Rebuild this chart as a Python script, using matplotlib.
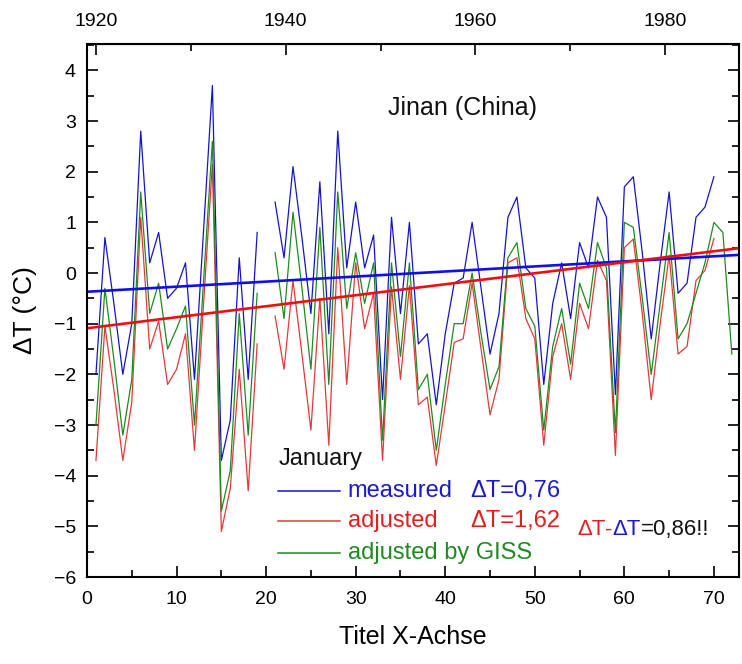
import matplotlib
matplotlib.use("Agg")
import matplotlib.pyplot as plt
import numpy as np
from matplotlib.ticker import MultipleLocator, FixedLocator

plt.rcParams['font.family'] = ['Liberation Sans', 'DejaVu Sans']

# Jahresindex (0 = 1919)
idx_measured = np.arange(1, 71)
idx_giss = np.arange(1, 73)

measured = [-2.0, 0.7, -0.6, -2.0, -1.0, 2.8, 0.2, 0.8, -0.5, -0.3,
            0.2, -2.1, 0.8, 3.7, -3.7, -2.9, 0.3, -2.1, 0.8, np.nan,
            1.4, 0.3, 2.1, 0.7, -0.8, 1.8, -1.2, 2.8, 0.1, 1.4,
            0.1, 0.75, -2.5, 1.1, -0.8, 1.0, -1.4, -1.2, -2.6, -1.2,
            -0.2, -0.1, 1.0, -0.3, -1.6, -0.8, 1.1, 1.5, 0.1, -0.1,
            -2.2, -0.6, 0.2, -0.9, 0.6, 0.1, 1.5, 1.1, -2.4, 1.7,
            1.9, 0.4, -1.3, 0.2, 1.6, -0.4, -0.2, 1.1, 1.3, 1.9]

adjusted = [-3.7, -1.05, -2.3, -3.7, -2.55, 1.1, -1.5, -0.95, -2.2, -1.9,
            -1.2, -3.5, -0.65, 2.15, -5.1, -4.25, -1.9, -4.3, -1.4, np.nan,
            -0.85, -1.9, -0.15, -1.6, -3.1, -0.5, -3.4, 0.5, -2.2, 0.2,
            -1.1, -0.4, -3.7, -0.27, -2.1, -0.25, -2.6, -2.45, -3.8, -2.6,
            -1.37, -1.3, -0.2, -1.5, -2.8, -2.1, 0.2, 0.3, -0.9, -1.3,
            -3.4, -1.65, -1.0, -2.1, -0.6, -1.1, 0.25, -0.15, -3.6, 0.5,
            0.67, -0.8, -2.5, -1.0, 0.35, -1.6, -1.45, -0.15, 0.05, 0.68]

giss = [-3.0, -0.3, -1.7, -3.2, -2.1, 1.6, -0.8, -0.2, -1.5, -1.1,
        -0.65, -3.0, -0.2, 2.6, -4.7, -3.9, -0.8, -3.2, -0.4, np.nan,
        0.4, -0.9, 1.2, -0.3, -1.9, 0.9, -2.2, 1.6, -0.7, 0.4,
        -0.6, 0.2, -3.3, 0.2, -1.65, 0.2, -2.3, -2.0, -3.5, -2.2,
        -1.0, -1.0, 0.0, -1.2, -2.3, -1.85, 0.3, 0.6, -0.7, -1.05,
        -3.1, -1.45, -0.7, -1.8, -0.2, -0.7, 0.6, 0.1, -3.15, 1.0,
        0.9, -0.5, -2.0, -0.6, 0.8, -1.3, -1.0, -0.4, 0.2, 1.0,
        0.8, -1.6]

trend_measured = (-0.37, 0.0100)
trend_adjusted = (-1.09, 0.0217)

year_ticks = [1920, 1940, 1960, 1980]
year_minor = [1930, 1950, 1970]


def idx_to_year(x):
    return 1920 + (x - 1.0) * 0.9441


def year_to_idx(y):
    return 1.0 + (y - 1920) / 0.9441


fig = plt.figure(figsize=(7.42, 6.64), dpi=100)
ax = fig.add_axes([87 / 742, 87 / 664, 652 / 742, 533 / 664])

ax.plot(idx_measured, measured, color='#1414c8', lw=0.9)
ax.plot(idx_measured, adjusted, color='#e23a3a', lw=0.9)
ax.plot(idx_giss, giss, color='#1f8a1f', lw=0.9)

xl = np.array([0, 73])
ax.plot(xl, trend_measured[0] + trend_measured[1] * xl, color='#1010e6', lw=1.9)
ax.plot(xl, trend_adjusted[0] + trend_adjusted[1] * xl, color='#ee1010', lw=1.9)

ax.set_xlim(0, 72.8)
ax.set_ylim(-6, 4.52)

ax.xaxis.set_major_locator(MultipleLocator(10))
ax.xaxis.set_minor_locator(MultipleLocator(5))
ax.yaxis.set_major_locator(MultipleLocator(1))
ax.yaxis.set_minor_locator(MultipleLocator(0.5))
ax.tick_params(which='both', direction='in', right=True, top=False, width=1.2, labelsize=14)
ax.tick_params(which='major', length=8)
ax.tick_params(which='minor', length=5)
ax.tick_params(axis='x', pad=10)
ax.tick_params(axis='y', pad=8)
for s in ax.spines.values():
    s.set_linewidth(1.5)

secax = ax.secondary_xaxis('top', functions=(idx_to_year, year_to_idx))
secax.xaxis.set_major_locator(FixedLocator(year_ticks))
secax.xaxis.set_minor_locator(FixedLocator(year_minor))
secax.tick_params(which='both', direction='in', width=1.2, labelsize=14, pad=10)
secax.tick_params(which='major', length=8)
secax.tick_params(which='minor', length=5)

ax.set_xlabel('Titel X-Achse', fontsize=18, labelpad=12)
ax.set_ylabel('ΔT (°C)', fontsize=19, labelpad=12)

ax.text(33.6, 3.25, 'Jinan (China)', fontsize=18, va='center', ha='left', color='#111111')

# Legende von Hand
ax.text(21.4, -3.67, 'January', fontsize=17, va='center', ha='left', color='#111111')
legend_rows = [
    (-4.31, '#1414c8', 'measured', 'ΔT=0,76', '#1a1acc'),
    (-4.90, '#e23a3a', 'adjusted', 'ΔT=1,62', '#e02020'),
    (-5.53, '#1f8a1f', 'adjusted by GISS', None, '#1f8a1f'),
]
for yy, lc, label, extra, tc in legend_rows:
    ax.plot([21.3, 28.2], [yy, yy], color=lc, lw=1.1)
    ax.text(29.1, yy, label, fontsize=17, va='center', ha='left', color=tc)
    if extra:
        ax.text(42.8, yy, extra, fontsize=17, va='center', ha='left', color=tc)

t1 = ax.text(54.7, -5.07, 'ΔT', fontsize=16, va='center', ha='left', color='#e02020')
t2 = ax.annotate('-', xy=(1, 0), xycoords=t1, va='bottom', ha='left', fontsize=16, color='#e02020')
t3 = ax.annotate('ΔT', xy=(1, 0), xycoords=t2, va='bottom', ha='left', fontsize=16, color='#1a1acc')
ax.annotate('=0,86!!', xy=(1, 0), xycoords=t3, va='bottom', ha='left', fontsize=16, color='#111111')

fig.savefig('out.png', dpi=100)
